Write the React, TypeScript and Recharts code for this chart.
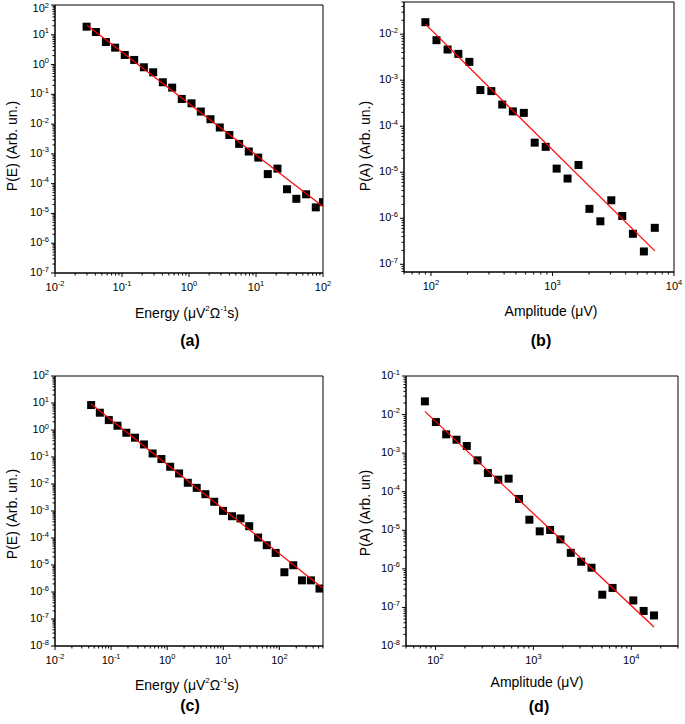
import React from "react";
import { ScatterChart, Scatter, XAxis, YAxis, ZAxis, ReferenceArea } from "recharts";

const FONT = "'Liberation Sans', Arial, sans-serif";

// (a) energy distribution, first test
const energyA = [0.0296, 0.0408, 0.0575, 0.079, 0.11, 0.152, 0.212, 0.292, 0.407, 0.561, 0.78, 1.09, 1.5, 2.09, 2.88, 4.0, 5.6, 7.8, 10.8, 15, 20.9, 29, 40, 56, 78, 100];
const probA = [18.7, 12.4, 5.7, 3.7, 2.1, 1.43, 0.81, 0.55, 0.254, 0.168, 0.07, 0.05, 0.0264, 0.0146, 0.0077, 0.0043, 0.00217, 0.0012, 0.00075, 2.1e-4, 3.2e-4, 6.5e-5, 3.1e-5, 4.4e-5, 1.6e-5, 2.4e-5];
const fitXA = [0.03, 100];
const fitYA = [21, 1.7e-5];

// (b) amplitude distribution, first test
const ampB = [90, 111, 137, 168, 207, 255, 314, 386, 472, 581, 714, 879, 1082, 1331, 1637, 2014, 2478, 3048, 3750, 4590, 5650, 6950];
const probB = [0.0182, 0.0074, 0.00464, 0.00373, 0.0025, 6.1e-4, 5.8e-4, 2.96e-4, 2.1e-4, 1.95e-4, 4.4e-5, 3.56e-5, 1.2e-5, 7.3e-6, 1.44e-5, 1.6e-6, 8.6e-7, 2.46e-6, 1.12e-6, 4.6e-7, 1.9e-7, 6.2e-7];
const fitXB = [90, 6950];
const fitYB = [0.0165, 1.95e-7];

// (c) energy distribution, second test
const energyC = [0.0441, 0.063, 0.091, 0.13, 0.187, 0.267, 0.385, 0.55, 0.79, 1.13, 1.63, 2.33, 3.36, 4.8, 6.9, 9.9, 14.3, 20.3, 29, 41.8, 59.6, 86, 123, 177, 253, 365, 520];
const probC = [8.4, 4.37, 2.33, 1.44, 0.79, 0.52, 0.292, 0.135, 0.084, 0.0435, 0.0246, 0.0111, 0.0072, 0.0042, 0.0022, 0.00101, 6.4e-4, 5.3e-4, 2.74e-4, 1.04e-4, 5.4e-5, 2.8e-5, 5.4e-6, 9.8e-6, 2.7e-6, 2.7e-6, 1.34e-6];
const fitXC = [0.0441, 590];
const fitYC = [9.2, 1.4e-6];

// (d) amplitude distribution, second test
const ampD = [78, 101, 128.6, 164, 209, 269, 343, 438, 559, 713, 910, 1161, 1482, 1889, 2411, 3076, 3925, 5050, 6440, 10480, 13370, 17070];
const probD = [0.022, 0.0064, 0.00307, 0.00223, 0.00153, 6.5e-4, 3.05e-4, 2.05e-4, 2.18e-4, 6.5e-5, 1.88e-5, 9.4e-6, 1.02e-5, 5.8e-6, 2.6e-6, 1.53e-6, 1.07e-6, 2.14e-7, 3.2e-7, 1.52e-7, 8.1e-8, 6.2e-8];
const fitXD = [78, 17070];
const fitYD = [0.0121, 3.1e-8];

const pairs = (xs: number[], ys: number[]) => xs.map((x, i) => ({ x, y: ys[i] }));

// decade ticks plus the 2..9 minor ticks inside a domain
function logTicks(lo: number, hi: number) {
  const out: number[] = [];
  for (let e = Math.floor(Math.log10(lo)); e <= Math.ceil(Math.log10(hi)); e++) {
    for (let m = 1; m < 10; m++) {
      const v = Number((m * Math.pow(10, e)).toPrecision(6));
      if (v >= lo * 0.999 && v <= hi * 1.001) out.push(v);
    }
  }
  return out;
}

const isDecade = (v: number) => Math.abs(Math.log10(v) - Math.round(Math.log10(v))) < 1e-6;

const XTick = (props: any) => {
  const { x, y, payload } = props;
  const v = payload.value;
  const major = isDecade(v);
  return (
    <g>
      <line x1={x} x2={x} y1={y} y2={y + (major ? 4 : 2.5)} stroke="#000" strokeWidth={1} />
      {major && (
        <text x={x} y={y + 18} textAnchor="middle" fontSize={11} fontFamily={FONT} fill="#000">
          <tspan>10</tspan>
          <tspan dy={-5} fontSize={7.5}>{Math.round(Math.log10(v))}</tspan>
        </text>
      )}
    </g>
  );
};

// minBase keeps a label below the page edge when the chart svg starts above it
const YTick = (props: any) => {
  const { x, y, payload, minBase = 0 } = props;
  const v = payload.value;
  const major = isDecade(v);
  const base = Math.max(y + 3, minBase);
  return (
    <g>
      <line x1={x} x2={x - (major ? 4 : 2.5)} y1={y} y2={y} stroke="#000" strokeWidth={1} />
      {major && (
        <text x={x - 6} y={base} textAnchor="end" fontSize={11} fontFamily={FONT} fill="#000">
          <tspan>10</tspan>
          <tspan dy={-4.5} fontSize={7.5}>{Math.round(Math.log10(v))}</tspan>
        </text>
      )}
    </g>
  );
};

interface PanelProps {
  box: { left: number; top: number; width: number; height: number };
  plot: { l: number; t: number; r: number; b: number };
  xDomain: [number, number];
  yDomain: [number, number];
  points: { x: number; y: number }[];
  fit: { x: number; y: number }[];
}

function Panel({ box, plot, xDomain, yDomain, points, fit }: PanelProps) {
  const margin = { top: plot.t - box.top, right: box.left + box.width - plot.r, left: 0, bottom: 0 };
  const minBase = box.top < 0 ? -box.top + 12 : 0;
  return (
    <div style={{ position: "absolute", left: box.left, top: box.top }}>
      <ScatterChart width={box.width} height={box.height} margin={margin}>
        <XAxis
          type="number"
          dataKey="x"
          scale="log"
          domain={xDomain}
          allowDataOverflow
          ticks={logTicks(xDomain[0], xDomain[1])}
          interval={0}
          tickSize={0}
          tickMargin={0}
          tickLine={false}
          tick={<XTick />}
          height={box.top + box.height - plot.b}
          axisLine={{ stroke: "#000", strokeWidth: 1 }}
        />
        <YAxis
          type="number"
          dataKey="y"
          scale="log"
          domain={yDomain}
          allowDataOverflow
          ticks={logTicks(yDomain[0], yDomain[1])}
          interval={0}
          tickSize={0}
          tickMargin={0}
          tickLine={false}
          tick={<YTick minBase={minBase} />}
          width={plot.l - box.left}
          axisLine={{ stroke: "#000", strokeWidth: 1 }}
        />
        <ZAxis range={[60, 60]} />
        <ReferenceArea
          x1={xDomain[0]}
          x2={xDomain[1]}
          y1={yDomain[0]}
          y2={yDomain[1]}
          fill="none"
          stroke="#000"
          strokeWidth={1}
          fillOpacity={0}
          ifOverflow="visible"
        />
        <Scatter data={points} fill="#000" shape="square" isAnimationActive={false} />
        <Scatter
          data={fit}
          line={{ stroke: "#ff0000", strokeWidth: 1.2 }}
          shape={() => <g />}
          isAnimationActive={false}
        />
      </ScatterChart>
    </div>
  );
}

const textStyle: React.CSSProperties = {
  position: "absolute",
  fontFamily: FONT,
  fontSize: 14,
  color: "#000",
  whiteSpace: "nowrap",
  transform: "translate(-50%, -50%)",
  lineHeight: 1,
};
const supStyle: React.CSSProperties = { fontSize: 8, verticalAlign: "top", position: "relative", top: -1 };

function Label({ x, y, rotate, bold, size, children }: any) {
  return (
    <div
      style={{
        ...textStyle,
        left: x,
        top: y,
        fontSize: size || 14,
        fontWeight: bold ? "bold" : "normal",
        transform: `translate(-50%, -50%)${rotate ? " rotate(-90deg)" : ""}`,
      }}
    >
      {children}
    </div>
  );
}

const energyTitle = (
  <>
    Energy (μV<sup style={supStyle}>2</sup>Ω<sup style={supStyle}>-1</sup>s)
  </>
);

export default function App() {
  return (
    <div style={{ position: "absolute", left: 0, top: 0, width: 685, height: 724, background: "#fff", overflow: "hidden" }}>
      <Panel
        box={{ left: 0, top: -12, width: 340, height: 312 }}
        plot={{ l: 55, t: 5, r: 323, b: 273 }}
        xDomain={[0.01, 100]}
        yDomain={[1e-7, 100]}
        points={pairs(energyA, probA)}
        fit={pairs(fitXA, fitYA)}
      />
      <Panel
        box={{ left: 340, top: -12, width: 345, height: 312 }}
        plot={{ l: 404, t: 2, r: 674, b: 272 }}
        xDomain={[60, 10000]}
        yDomain={[6.8e-8, 0.05]}
        points={pairs(ampB, probB)}
        fit={pairs(fitXB, fitYB)}
      />
      <Panel
        box={{ left: 0, top: 360, width: 340, height: 320 }}
        plot={{ l: 55, t: 376, r: 323, b: 646 }}
        xDomain={[0.01, 600]}
        yDomain={[1e-8, 100]}
        points={pairs(energyC, probC)}
        fit={pairs(fitXC, fitYC)}
      />
      <Panel
        box={{ left: 340, top: 360, width: 345, height: 320 }}
        plot={{ l: 406, t: 376, r: 678, b: 646 }}
        xDomain={[50, 30000]}
        yDomain={[1e-8, 0.1]}
        points={pairs(ampD, probD)}
        fit={pairs(fitXD, fitYD)}
      />

      <Label x={12} y={146} rotate>P(E) (Arb. un.)</Label>
      <Label x={187} y={313}>{energyTitle}</Label>
      <Label x={190} y={341} bold size={16}>(a)</Label>

      <Label x={365} y={146} rotate>P(A) (Arb. un.)</Label>
      <Label x={551} y={311}>Amplitude (μV)</Label>
      <Label x={541} y={341} bold size={16}>(b)</Label>

      <Label x={12} y={514} rotate>P(E) (Arb. un.)</Label>
      <Label x={187} y={685}>{energyTitle}</Label>
      <Label x={190} y={706} bold size={16}>(c)</Label>

      <Label x={365} y={513} rotate>P(A) (Arb. un)</Label>
      <Label x={537} y={682}>Amplitude (μV)</Label>
      <Label x={539} y={707} bold size={16}>(d)</Label>
    </div>
  );
}
